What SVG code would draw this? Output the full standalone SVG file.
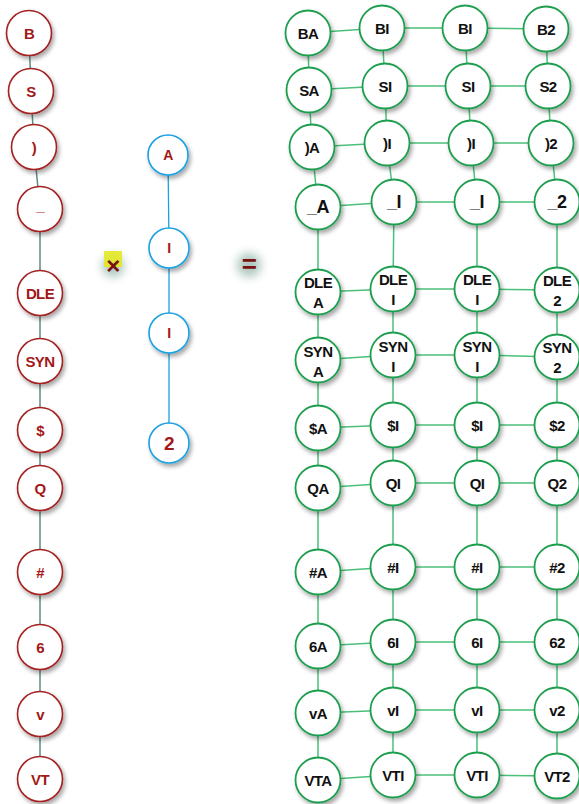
<svg xmlns="http://www.w3.org/2000/svg" width="579" height="804" viewBox="0 0 579 804">
<defs>
<filter id="sh" x="-30%" y="-30%" width="170%" height="170%"><feDropShadow dx="2" dy="3" stdDeviation="2" flood-color="#000" flood-opacity="0.35"/></filter>
<filter id="glow" x="-100%" y="-100%" width="300%" height="300%"><feGaussianBlur stdDeviation="5"/></filter>
</defs>
<style>
.lc{stroke:#5f8a84;stroke-width:1.5;fill:none}
.mc{stroke:#1ba1e2;stroke-width:1.3;fill:none}
.gc{stroke:#4cc07a;stroke-width:1.5;fill:none}
.rn{fill:#fff;stroke:#a32121;stroke-width:1.6;filter:url(#sh)}
.bn{fill:#fff;stroke:#1ba1e2;stroke-width:1.6;filter:url(#sh)}
.gn{fill:#fff;stroke:#1f9e4f;stroke-width:1.8;filter:url(#sh)}
text{font-family:"Liberation Sans",Arial,sans-serif;font-weight:bold;font-size:15px;letter-spacing:-0.6px;text-anchor:middle;dominant-baseline:central}
.rt{fill:#a31818}
.gt{fill:#111}
</style>
<g id="connectors">
<g class="lc">
<polyline points="29,33 31,91 34,147 40,209 40,293 40,361 40,430 40,488 40,572 40,647 40,714 40,779"/>
</g>
<g class="mc">
<polyline points="168,155 169,248 169,333 169,443"/>
</g>
<g class="gc">
<polyline points="308,33 382,28 465,28 546,29"/>
<polyline points="309,90 385,86 468,86 548,86"/>
<polyline points="312,147 387,143 471,143 551,143"/>
<polyline points="318,207 394,202 477,202 557,202"/>
<polyline points="318,292 393,289 477,289 557,290"/>
<polyline points="318,360 393,355 477,355 557,357"/>
<polyline points="318,428 393,425 477,425 557,425"/>
<polyline points="318,488 393,483 477,483 557,483"/>
<polyline points="318,572 393,567 477,567 557,567"/>
<polyline points="318,646 393,642 477,642 557,642"/>
<polyline points="318,713 393,710 477,710 557,710"/>
<polyline points="318,780 393,775 477,775 557,776"/>
<polyline points="308,33 309,90 312,147 318,207 318,292 318,360 318,428 318,488 318,572 318,646 318,713 318,780"/>
<polyline points="382,28 385,86 387,143 394,202 393,289 393,355 393,425 393,483 393,567 393,642 393,710 393,775"/>
<polyline points="465,28 468,86 471,143 477,202 477,289 477,355 477,425 477,483 477,567 477,642 477,710 477,775"/>
<polyline points="546,29 548,86 551,143 557,202 557,290 557,357 557,425 557,483 557,567 557,642 557,710 557,776"/>
</g>
</g>
<g id="left">
<g id="l-B"><circle class="rn" cx="29" cy="33" r="22.5"/><text class="rt" x="29" y="33">B</text></g>
<g id="l-S"><circle class="rn" cx="31" cy="91" r="22.5"/><text class="rt" x="31" y="91">S</text></g>
<g id="l-paren"><circle class="rn" cx="34" cy="147" r="22.5"/><text class="rt" x="34" y="147">)</text></g>
<g id="l-us"><circle class="rn" cx="40" cy="209" r="22.5"/><text class="rt" x="40" y="205">_</text></g>
<g id="l-DLE"><circle class="rn" cx="40" cy="293" r="22.5"/><text class="rt" x="40" y="293">DLE</text></g>
<g id="l-SYN"><circle class="rn" cx="40" cy="361" r="22.5"/><text class="rt" x="40" y="361">SYN</text></g>
<g id="l-dollar"><circle class="rn" cx="40" cy="430" r="22.5"/><text class="rt" x="40" y="430">$</text></g>
<g id="l-Q"><circle class="rn" cx="40" cy="488" r="22.5"/><text class="rt" x="40" y="488">Q</text></g>
<g id="l-hash"><circle class="rn" cx="40" cy="572" r="22.5"/><text class="rt" x="40" y="572">#</text></g>
<g id="l-6"><circle class="rn" cx="40" cy="647" r="22.5"/><text class="rt" x="40" y="647">6</text></g>
<g id="l-v"><circle class="rn" cx="40" cy="714" r="22.5"/><text class="rt" x="40" y="714">v</text></g>
<g id="l-VT"><circle class="rn" cx="40" cy="779" r="22.5"/><text class="rt" x="40" y="779">VT</text></g>
</g>
<g id="middle">
<g id="m-A"><circle class="bn" cx="168" cy="155" r="20"/><text class="rt" x="168" y="155" style="font-size:14px">A</text></g>
<g id="m-I1"><circle class="bn" cx="169" cy="248" r="20"/><text class="rt" x="169" y="248" style="font-size:14px">I</text></g>
<g id="m-I2"><circle class="bn" cx="169" cy="333" r="20"/><text class="rt" x="169" y="333" style="font-size:14px">I</text></g>
<g id="m-2"><circle class="bn" cx="169" cy="443" r="20"/><text class="rt" x="169" y="443" style="font-size:19px">2</text></g>
</g>
<g id="times">
<circle cx="113" cy="266" r="11" fill="#6a9a88" opacity="0.55" filter="url(#glow)"/>
<rect x="104" y="251" width="18" height="16" fill="#e4e824" opacity="0.9"/>
<text class="rt" x="113" y="265" style="font-size:24px;fill:#7a1010">×</text>
</g>
<g id="equals">
<circle cx="249" cy="265" r="12" fill="#6a9a88" opacity="0.55" filter="url(#glow)"/>
<text class="rt" x="249" y="264" style="font-size:26px;fill:#7a1010">=</text>
</g>
<g id="grid">
<g id="g-BA"><circle class="gn" cx="308" cy="33" r="22.5"/><text class="gt" x="308" y="33">BA</text></g>
<g id="g-BI1"><circle class="gn" cx="382" cy="28" r="22.5"/><text class="gt" x="382" y="28">BI</text></g>
<g id="g-BI2"><circle class="gn" cx="465" cy="28" r="22.5"/><text class="gt" x="465" y="28">BI</text></g>
<g id="g-B2"><circle class="gn" cx="546" cy="29" r="22.5"/><text class="gt" x="546" y="29">B2</text></g>
<g id="g-SA"><circle class="gn" cx="309" cy="90" r="22.5"/><text class="gt" x="309" y="90">SA</text></g>
<g id="g-SI1"><circle class="gn" cx="385" cy="86" r="22.5"/><text class="gt" x="385" y="86">SI</text></g>
<g id="g-SI2"><circle class="gn" cx="468" cy="86" r="22.5"/><text class="gt" x="468" y="86">SI</text></g>
<g id="g-S2"><circle class="gn" cx="548" cy="86" r="22.5"/><text class="gt" x="548" y="86">S2</text></g>
<g id="g-pA"><circle class="gn" cx="312" cy="147" r="22.5"/><text class="gt" x="312" y="147">)A</text></g>
<g id="g-pI1"><circle class="gn" cx="387" cy="143" r="22.5"/><text class="gt" x="387" y="143">)I</text></g>
<g id="g-pI2"><circle class="gn" cx="471" cy="143" r="22.5"/><text class="gt" x="471" y="143">)I</text></g>
<g id="g-p2"><circle class="gn" cx="551" cy="143" r="22.5"/><text class="gt" x="551" y="143">)2</text></g>
<g id="g-uA"><circle class="gn" cx="318" cy="207" r="22.5"/><text class="gt" x="318" y="207" style="font-size:18px">_A</text></g>
<g id="g-uI1"><circle class="gn" cx="394" cy="202" r="22.5"/><text class="gt" x="394" y="202" style="font-size:18px">_I</text></g>
<g id="g-uI2"><circle class="gn" cx="477" cy="202" r="22.5"/><text class="gt" x="477" y="202" style="font-size:18px">_I</text></g>
<g id="g-u2"><circle class="gn" cx="557" cy="202" r="22.5"/><text class="gt" x="557" y="202" style="font-size:18px">_2</text></g>
<g id="g-DLEA"><circle class="gn" cx="318" cy="292" r="22.5"/><text class="gt" x="318" y="282">DLE</text><text class="gt" x="318" y="302">A</text></g>
<g id="g-DLEI1"><circle class="gn" cx="393" cy="289" r="22.5"/><text class="gt" x="393" y="279">DLE</text><text class="gt" x="393" y="299">I</text></g>
<g id="g-DLEI2"><circle class="gn" cx="477" cy="289" r="22.5"/><text class="gt" x="477" y="279">DLE</text><text class="gt" x="477" y="299">I</text></g>
<g id="g-DLE2"><circle class="gn" cx="557" cy="290" r="22.5"/><text class="gt" x="557" y="280">DLE</text><text class="gt" x="557" y="300">2</text></g>
<g id="g-SYNA"><circle class="gn" cx="318" cy="360" r="22.5"/><text class="gt" x="318" y="351">SYN</text><text class="gt" x="318" y="371">A</text></g>
<g id="g-SYNI1"><circle class="gn" cx="393" cy="355" r="22.5"/><text class="gt" x="393" y="346">SYN</text><text class="gt" x="393" y="366">I</text></g>
<g id="g-SYNI2"><circle class="gn" cx="477" cy="355" r="22.5"/><text class="gt" x="477" y="346">SYN</text><text class="gt" x="477" y="366">I</text></g>
<g id="g-SYN2"><circle class="gn" cx="557" cy="357" r="22.5"/><text class="gt" x="557" y="347">SYN</text><text class="gt" x="557" y="367">2</text></g>
<g id="g-dA"><circle class="gn" cx="318" cy="428" r="22.5"/><text class="gt" x="318" y="428">$A</text></g>
<g id="g-dI1"><circle class="gn" cx="393" cy="425" r="22.5"/><text class="gt" x="393" y="425">$I</text></g>
<g id="g-dI2"><circle class="gn" cx="477" cy="425" r="22.5"/><text class="gt" x="477" y="425">$I</text></g>
<g id="g-d2"><circle class="gn" cx="557" cy="425" r="22.5"/><text class="gt" x="557" y="425">$2</text></g>
<g id="g-QA"><circle class="gn" cx="318" cy="488" r="22.5"/><text class="gt" x="318" y="488">QA</text></g>
<g id="g-QI1"><circle class="gn" cx="393" cy="483" r="22.5"/><text class="gt" x="393" y="483">QI</text></g>
<g id="g-QI2"><circle class="gn" cx="477" cy="483" r="22.5"/><text class="gt" x="477" y="483">QI</text></g>
<g id="g-Q2"><circle class="gn" cx="557" cy="483" r="22.5"/><text class="gt" x="557" y="483">Q2</text></g>
<g id="g-hA"><circle class="gn" cx="318" cy="572" r="22.5"/><text class="gt" x="318" y="572">#A</text></g>
<g id="g-hI1"><circle class="gn" cx="393" cy="567" r="22.5"/><text class="gt" x="393" y="567">#I</text></g>
<g id="g-hI2"><circle class="gn" cx="477" cy="567" r="22.5"/><text class="gt" x="477" y="567">#I</text></g>
<g id="g-h2"><circle class="gn" cx="557" cy="567" r="22.5"/><text class="gt" x="557" y="567">#2</text></g>
<g id="g-6A"><circle class="gn" cx="318" cy="646" r="22.5"/><text class="gt" x="318" y="646">6A</text></g>
<g id="g-6I1"><circle class="gn" cx="393" cy="642" r="22.5"/><text class="gt" x="393" y="642">6I</text></g>
<g id="g-6I2"><circle class="gn" cx="477" cy="642" r="22.5"/><text class="gt" x="477" y="642">6I</text></g>
<g id="g-62"><circle class="gn" cx="557" cy="642" r="22.5"/><text class="gt" x="557" y="642">62</text></g>
<g id="g-vA"><circle class="gn" cx="318" cy="713" r="22.5"/><text class="gt" x="318" y="713">vA</text></g>
<g id="g-vI1"><circle class="gn" cx="393" cy="710" r="22.5"/><text class="gt" x="393" y="710">vI</text></g>
<g id="g-vI2"><circle class="gn" cx="477" cy="710" r="22.5"/><text class="gt" x="477" y="710">vI</text></g>
<g id="g-v2"><circle class="gn" cx="557" cy="710" r="22.5"/><text class="gt" x="557" y="710">v2</text></g>
<g id="g-VTA"><circle class="gn" cx="318" cy="780" r="22.5"/><text class="gt" x="318" y="780">VTA</text></g>
<g id="g-VTI1"><circle class="gn" cx="393" cy="775" r="22.5"/><text class="gt" x="393" y="775">VTI</text></g>
<g id="g-VTI2"><circle class="gn" cx="477" cy="775" r="22.5"/><text class="gt" x="477" y="775">VTI</text></g>
<g id="g-VT2"><circle class="gn" cx="557" cy="776" r="22.5"/><text class="gt" x="557" y="776">VT2</text></g>
</g>
</svg>
